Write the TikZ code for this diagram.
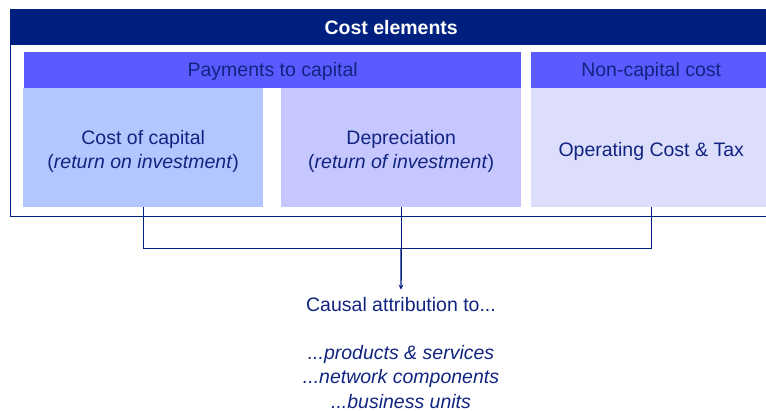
\documentclass[tikz,border=0pt]{standalone}
\usepackage{fontspec}
\setmainfont{Liberation Sans}
\usepackage{xcolor}
\usetikzlibrary{arrows.meta}
\definecolor{navy}{RGB}{0,32,128}
\definecolor{textnavy}{RGB}{16,36,128}
\definecolor{paycol}{RGB}{90,90,255}
\definecolor{coccol}{RGB}{180,198,255}
\definecolor{depcol}{RGB}{199,199,255}
\definecolor{opccol}{RGB}{221,221,252}
\newcommand{\boxstrut}{\rule{0pt}{22pt}}

\begin{document}
\begin{tikzpicture}[x=1pt, y=-1pt,
    every node/.style={font=\fontsize{19.5}{24}\selectfont, text=textnavy, inner sep=0pt},
    cell/.style={anchor=north west, align=center},
    conn/.style={draw=navy, line width=0.8pt}]
    \clip (0,0) rectangle (766,410);
    % outer frame with title bar
    \node[cell, draw=navy, line width=1.2pt, minimum width=762pt, minimum height=207pt] (frame) at (10,9) {};
    \node[cell, fill=navy, minimum width=762pt, minimum height=36pt, text=white, font=\fontsize{19.5}{24}\selectfont\bfseries] (title) at (10,9) {Cost elements};
    % group headers
    \node[cell, fill=paycol, minimum width=497pt, minimum height=36pt] (pay) at (24,52) {\rule{0pt}{16pt}Payments to capital};
    \node[cell, fill=paycol, minimum width=240pt, minimum height=36pt] (noncap) at (531,52) {\rule{0pt}{16pt}Non-capital cost};
    % cost boxes
    \node[cell, fill=coccol, minimum width=240pt, minimum height=119pt] (coc) at (23,88) {\boxstrut Cost of capital\\(\textit{return on investment})};
    \node[cell, fill=depcol, minimum width=240pt, minimum height=119pt] (dep) at (281,88) {\boxstrut Depreciation\\(\textit{return of investment})};
    \node[cell, fill=opccol, minimum width=240pt, minimum height=119pt] (opc) at (531,88) {\boxstrut Operating Cost \& Tax};
    % attribution
    \node (attr) at (401,305) {Causal attribution to...};
    \node[align=center, font=\fontsize{19.5}{24.5}\selectfont\itshape] (targets) at (401,377) {...products \& services\\...network components\\...business units};
    \coordinate (join) at (dep.south |- 0,248);
    \draw[conn] (coc.south) |- (join);
    \draw[conn] (opc.south) |- (join);
    \draw[conn] (dep.south) -- (join);
    \draw[conn, line width=1.4pt, -{Stealth[length=5pt, width=5pt]}] (join) -- ([yshift=8pt]attr.north);
\end{tikzpicture}
\end{document}
